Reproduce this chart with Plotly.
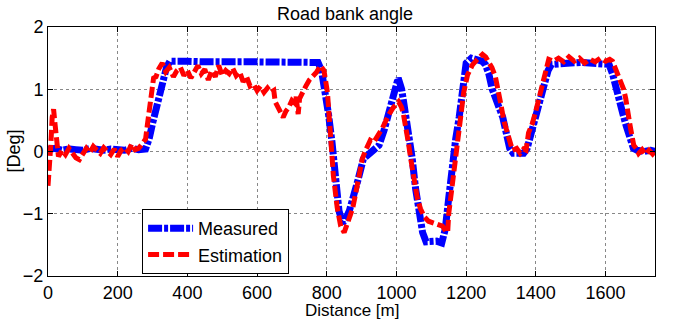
import plotly.graph_objects as go

# Measured road bank angle
meas_x = [0, 20, 40, 60, 80, 100, 120, 140, 160, 180, 200, 220, 240, 260, 280, 290, 300, 310, 320, 330,
          340, 350, 370, 400, 450, 500, 550, 600, 650, 700, 750, 775, 785, 795, 805, 815, 825, 835, 845,
          855, 865, 875, 890, 905, 920, 935, 950, 965, 980, 995, 1005, 1015, 1025, 1035, 1045, 1055, 1065,
          1075, 1085, 1100, 1115, 1130, 1140, 1150, 1160, 1170, 1180, 1190, 1200, 1215, 1230, 1245, 1255,
          1265, 1275, 1285, 1295, 1305, 1315, 1325, 1335, 1350, 1365, 1375, 1385, 1395, 1405, 1415, 1425,
          1435, 1445, 1470, 1500, 1530, 1560, 1590, 1610, 1620, 1630, 1640, 1650, 1660, 1670, 1680, 1690,
          1710, 1730, 1745]
meas_y = [0.03, 0.05, 0.02, 0.04, 0.03, 0.02, 0.05, 0.03, 0.02, 0.04, 0.03, 0.02, 0.05, 0.03, 0.04, 0.2,
          0.45, 0.7, 0.92, 1.12, 1.35, 1.45, 1.44, 1.45, 1.44, 1.45, 1.44, 1.44, 1.44, 1.44, 1.45, 1.43, 1.3,
          1.0, 0.6, 0.15, -0.45, -0.95, -1.15, -1.08, -0.95, -0.78, -0.45, -0.12, -0.05, 0.0, 0.1, 0.35, 0.7,
          1.05, 1.18, 1.0, 0.65, 0.35, -0.1, -0.6, -1.0, -1.3, -1.45, -1.45, -1.44, -1.47, -1.25, -0.75,
          -0.2, 0.2, 0.55, 1.1, 1.42, 1.5, 1.47, 1.45, 1.4, 1.25, 1.0, 0.85, 0.72, 0.55, 0.3, 0.05, -0.03,
          -0.02, -0.03, 0.05, 0.25, 0.5, 0.72, 0.95, 1.15, 1.3, 1.4, 1.42, 1.42, 1.43, 1.42, 1.42, 1.4, 1.25,
          1.0, 0.82, 0.6, 0.4, 0.2, 0.05, 0.02, 0.0, 0.02, 0.0]

# Estimated road bank angle
est_x = [0, 4, 8, 12, 16, 20, 25, 30, 40, 50, 60, 70, 80, 90, 100, 110, 120, 130, 140, 150, 160, 170,
         180, 190, 200, 210, 220, 230, 240, 250, 260, 270, 280, 285, 292, 298, 303, 310, 318, 328, 338,
         348, 360, 370, 380, 390, 400, 410, 420, 430, 440, 450, 460, 470, 480, 490, 500, 510, 520, 530,
         540, 550, 560, 570, 580, 590, 600, 610, 620, 630, 640, 648, 652, 660, 668, 675, 683, 690, 700,
         708, 712, 718, 722, 730, 740, 750, 760, 770, 782, 792, 802, 810, 819, 830, 840, 850, 858, 866,
         874, 882, 891, 902, 910, 917, 925, 935, 948, 960, 977, 990, 1006, 1014, 1020, 1027, 1034, 1042,
         1049, 1060, 1069, 1080, 1092, 1105, 1120, 1132, 1142, 1147, 1150, 1157, 1164, 1171, 1178, 1186,
         1193, 1204, 1218, 1232, 1247, 1256, 1264, 1274, 1284, 1292, 1300, 1308, 1315, 1322, 1333, 1345,
         1355, 1365, 1372, 1379, 1390, 1399, 1410, 1420, 1428, 1437, 1450, 1465, 1480, 1495, 1510, 1525,
         1540, 1555, 1570, 1585, 1600, 1612, 1620, 1630, 1638, 1645, 1652, 1658, 1664, 1668, 1672, 1681,
         1688, 1695, 1705, 1715, 1725, 1735, 1745]
est_y = [-0.55, -0.3, 0.1, 0.55, 0.68, 0.45, 0.05, -0.08, 0.02, -0.05, 0.05, -0.02, -0.1, -0.13, -0.02,
         0.05, -0.02, 0.08, 0.02, -0.03, 0.06, 0.0, -0.05, 0.04, -0.08, 0.02, 0.06, 0.0, 0.12, 0.03, 0.05,
         0.12, 0.2, 0.42, 0.7, 0.95, 1.18, 1.2, 1.33, 1.42, 1.28, 1.35, 1.2, 1.3, 1.35, 1.22, 1.3, 1.18,
         1.28, 1.38, 1.25, 1.32, 1.15, 1.3, 1.2, 1.38, 1.22, 1.3, 1.25, 1.34, 1.22, 1.28, 1.12, 1.2, 1.05,
         1.08, 0.98, 1.05, 0.95, 1.02, 0.95, 0.98, 0.8, 0.7, 0.62, 0.55, 0.65, 0.7, 0.82, 0.78, 0.88, 0.6,
         0.85, 0.95, 1.05, 1.15, 1.2, 1.27, 1.38, 1.3, 0.95, 0.2, -0.39, -0.9, -1.2, -1.3, -1.15, -1.05,
         -0.92, -0.7, -0.44, -0.12, 0.0, 0.1, 0.18, 0.15, 0.26, 0.38, 0.58, 0.7, 0.8, 0.72, 0.6, 0.4, 0.15,
         -0.15, -0.44, -0.75, -0.92, -1.05, -1.12, -1.15, -1.18, -1.2, -1.28, -1.3, -1.0, -0.7, -0.39,
         -0.05, 0.26, 0.6, 0.95, 1.23, 1.39, 1.48, 1.56, 1.52, 1.44, 1.35, 1.2, 1.0, 0.75, 0.5, 0.35, 0.18,
         0.02, 0.05, -0.03, 0.04, 0.02, 0.3, 0.45, 0.63, 0.88, 1.11, 1.3, 1.48, 1.45, 1.5, 1.44, 1.52, 1.45,
         1.5, 1.42, 1.48, 1.44, 1.5, 1.45, 1.48, 1.45, 1.3, 1.18, 1.1, 1.0, 0.85, 0.69, 0.5, 0.37, 0.1,
         0.05, -0.03, 0.03, -0.05, 0.02, -0.04, 0.03]

x_ticks = [0, 200, 400, 600, 800, 1000, 1200, 1400, 1600]
y_ticks = [-2, -1, 0, 1, 2]

fig = go.Figure()
fig.add_trace(go.Scatter(x=meas_x, y=meas_y, mode="lines", name="Measured",
                         line=dict(color="#0000ff", width=7, dash="14px,2px,4px,2px")))
fig.add_trace(go.Scatter(x=est_x, y=est_y, mode="lines", name="Estimation",
                         line=dict(color="#ff0000", width=5, dash="11px,4px")))

axis_common = dict(showline=True, linecolor="black", linewidth=1, mirror="ticks",
                   ticks="inside", ticklen=5, tickcolor="black",
                   showgrid=True, gridcolor="#888888", griddash="dot", gridwidth=1,
                   zeroline=False, automargin=False, tickfont=dict(size=18, color="black"))

fig.update_layout(
    width=675, height=320,
    margin=dict(l=48, r=20, t=27, b=44),
    paper_bgcolor="white", plot_bgcolor="white",
    font=dict(family="Liberation Sans, Arial, sans-serif", size=18, color="black"),
    title=dict(text="Road bank angle", x=(345 - 48) / 607, xref="paper", xanchor="center",
               y=1 - 14 / 320, yref="container", yanchor="middle", font=dict(size=18)),
    xaxis=dict(range=[0, 1742], tickvals=x_ticks, **axis_common),
    yaxis=dict(range=[-2, 2], tickvals=y_ticks, **axis_common),
    legend=dict(x=0.155, y=0.008, xanchor="left", yanchor="bottom",
                bgcolor="white", bordercolor="black", borderwidth=1,
                font=dict(size=18), tracegroupgap=0, itemwidth=45),
    showlegend=True,
    annotations=[
        dict(text="Distance [m]", xref="paper", yref="paper", x=0.5, y=-(310 - 276) / 249,
             xanchor="center", yanchor="middle", showarrow=False, font=dict(size=17)),
        dict(text="[Deg]", xref="paper", yref="paper", x=-(48 - 13) / 607, y=0.5,
             xanchor="center", yanchor="middle", showarrow=False, textangle=-90,
             font=dict(size=18)),
    ],
)

fig.write_html("out.html")
